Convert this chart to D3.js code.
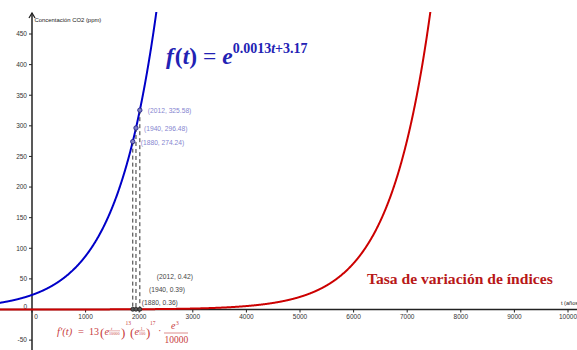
<!DOCTYPE html>
<html>
<head>
<meta charset="utf-8">
<script src="https://cdn.jsdelivr.net/npm/d3@7"></script>
<style>
  html, body { margin: 0; padding: 0; background: #fff; }
  svg { display: block; }
</style>
</head>
<body>
<script>
// ---- Data ----
const fCoefA = 0.0013;          // f(t) = e^(a t + b)
const fCoefB = 3.17;
const years = [1880, 1940, 2012];
const fValues = [274.24, 296.48, 325.58];
const dValues = [0.36, 0.39, 0.42];
const xTicks = [0, 1000, 2000, 3000, 4000, 5000, 6000, 7000, 8000, 9000, 10000];
const yTicks = [-50, 0, 50, 100, 150, 200, 250, 300, 350, 400, 450];
const xLabel = "t (años)";
const yLabel = "Concentación CO2 (ppm)";
const derivTitle = "Tasa de variación de índices";

const W = 577, H = 350;
const x = d3.scaleLinear().domain([0, 10000]).range([32, 568]);
const y = d3.scaleLinear().domain([0, 450]).range([309.5, 34]);

const svg = d3.select("body").append("svg").attr("width", W).attr("height", H);

svg.append("defs").append("clipPath").attr("id", "plotclip")
  .append("rect").attr("x", 0).attr("y", 12).attr("width", W).attr("height", H - 12);

const sans = "'Liberation Sans', Arial, sans-serif";
const serif = "'Liberation Serif', 'Times New Roman', serif";

// ---- Axes ----
const axG = svg.append("g");
axG.append("line").attr("x1", 0).attr("x2", W).attr("y1", y(0)).attr("y2", y(0))
  .attr("stroke", "#222").attr("stroke-width", 1.5);
axG.append("line").attr("x1", x(0)).attr("x2", x(0)).attr("y1", 13).attr("y2", H)
  .attr("stroke", "#222").attr("stroke-width", 1.5);
axG.append("path").attr("d", `M${x(0)-3},18 L${x(0)},13 L${x(0)+3},18`)
  .attr("fill", "none").attr("stroke", "#222").attr("stroke-width", 1.3);

// x ticks
const xt = axG.selectAll(".xt").data(xTicks).enter().append("g");
xt.append("line").attr("x1", d => x(d)).attr("x2", d => x(d))
  .attr("y1", y(0)).attr("y2", y(0) + 3).attr("stroke", "#222");
xt.append("text").attr("x", d => d === 0 ? x(d) + 4 : x(d)).attr("y", y(0) + 9)
  .attr("text-anchor", "middle").attr("font-family", sans).attr("font-size", 6.5)
  .attr("fill", "#333").text(d => d);

// y ticks
const yt = axG.selectAll(".yt").data(yTicks).enter().append("g");
yt.append("line").attr("x1", x(0) - 3).attr("x2", x(0))
  .attr("y1", d => y(d)).attr("y2", d => y(d)).attr("stroke", "#222")
  .attr("display", d => d === 0 ? "none" : null);
yt.append("text").attr("x", x(0) - 5).attr("y", d => d === 0 ? y(d) - 1 : y(d) + 2.3)
  .attr("text-anchor", "end").attr("font-family", sans).attr("font-size", 6.5)
  .attr("fill", "#333").text(d => d);

axG.append("text").attr("x", x(0) + 2.5).attr("y", 22).attr("font-family", sans)
  .attr("font-size", 5.9).attr("fill", "#222").text(yLabel);
axG.append("text").attr("x", 561).attr("y", 305).attr("font-family", sans)
  .attr("font-size", 5.6).attr("fill", "#222").text(xLabel);

// ---- Curves ----
const f = t => Math.exp(fCoefA * t + fCoefB);
const df = t => fCoefA * f(t);
const ts = d3.range(-700, 10300, 5);
const line = g => d3.line().x(t => x(t)).y(t => y(g(t)))
  .defined(t => g(t) < 2000);
const curves = svg.append("g").attr("clip-path", "url(#plotclip)");
curves.append("path").attr("d", line(df)(ts)).attr("fill", "none")
  .attr("stroke", "#cc0000").attr("stroke-width", 2);
curves.append("path").attr("d", line(f)(ts)).attr("fill", "none")
  .attr("stroke", "#0000c8").attr("stroke-width", 2);

// dashed projections
years.forEach((yr, i) => {
  svg.append("line").attr("x1", x(yr)).attr("x2", x(yr))
    .attr("y1", y(fValues[i])).attr("y2", y(dValues[i]))
    .attr("stroke", "#333").attr("stroke-width", 1).attr("stroke-dasharray", "4,3");
});

// derivative points
years.forEach((yr, i) => {
  svg.append("circle").attr("cx", x(yr)).attr("cy", y(dValues[i])).attr("r", 2)
    .attr("fill", "#555").attr("stroke", "#222").attr("stroke-width", 0.8);
});
// function points
years.forEach((yr, i) => {
  svg.append("circle").attr("cx", x(yr)).attr("cy", y(fValues[i])).attr("r", 2.2)
    .attr("fill", "#8080c8").attr("stroke", "#1a1a80").attr("stroke-width", 0.8);
});

// labels
const fLabOff = [[8, 3], [8, 3], [8, 3]];
years.forEach((yr, i) => {
  svg.append("text").attr("x", x(yr) + fLabOff[i][0]).attr("y", y(fValues[i]) + fLabOff[i][1])
    .attr("font-family", sans).attr("font-size", 6.7).attr("fill", "#8585d0")
    .text(`(${yr}, ${fValues[i].toFixed(2)})`);
});
const dLabOff = [[9, -4], [13, -17], [17, -30]];
years.forEach((yr, i) => {
  svg.append("text").attr("x", x(yr) + dLabOff[i][0]).attr("y", y(dValues[i]) + dLabOff[i][1])
    .attr("font-family", sans).attr("font-size", 6.7).attr("fill", "#444")
    .text(`(${yr}, ${dValues[i].toFixed(2)})`);
});

// ---- Formula f(t) ----
const blue = "#2222b4";
const ft = svg.append("text").attr("x", 166).attr("y", 64).attr("font-family", serif)
  .attr("fill", blue).attr("font-size", 23.5);
ft.append("tspan").attr("font-weight", "bold").attr("font-style", "italic").text("f");
ft.append("tspan").attr("dx", 1).attr("font-weight", "bold").text("(");
ft.append("tspan").attr("font-weight", "bold").attr("font-style", "italic").text("t");
ft.append("tspan").attr("font-weight", "bold").text(")");
ft.append("tspan").attr("dx", 6).text("=");
ft.append("tspan").attr("dx", 6).attr("font-weight", "bold").attr("font-style", "italic").text("e");
ft.append("tspan").attr("dy", -11).attr("font-size", 14).attr("font-weight", "bold").text("0.0013");
ft.append("tspan").attr("font-size", 14).attr("font-weight", "bold").attr("font-style", "italic").text("t");
ft.append("tspan").attr("font-size", 14).attr("font-weight", "bold").text("+3.17");

// ---- Derivative title ----
svg.append("text").attr("x", 367).attr("y", 284).attr("font-family", serif)
  .attr("font-size", 15.6).attr("font-weight", "bold").attr("fill", "#b81818").text(derivTitle);

// ---- Formula f'(t) ----
const red = "#c84040";
const fg = svg.append("g").attr("font-family", serif).attr("fill", red);
const T = (xx, yy, s, sz, it) => fg.append("text").attr("x", xx).attr("y", yy)
  .attr("font-size", sz).attr("font-style", it ? "italic" : null).text(s);
T(57, 335, "f′(t)", 10.5, true);
T(78, 335, "=", 10.5, false);
T(89, 335, "13", 10, false);
T(100, 336.5, "(", 13, false);
T(104.5, 335, "e", 10.5, true);
T(111, 329.5, "t", 4.5, true);
T(109, 334.5, "10000", 4.2, false);
fg.append("line").attr("x1", 109).attr("x2", 120).attr("y1", 330.8).attr("y2", 330.8)
  .attr("stroke", red).attr("stroke-width", 0.4);
T(121, 336.5, ")", 13, false);
T(125.5, 325, "13", 5.5, false);
T(130, 336.5, "(", 13, false);
T(134.5, 335, "e", 10.5, true);
T(140.5, 329.5, "1", 4.5, false);
T(139, 334.5, "100", 4.2, false);
fg.append("line").attr("x1", 139).attr("x2", 145).attr("y1", 330.8).attr("y2", 330.8)
  .attr("stroke", red).attr("stroke-width", 0.4);
T(146, 336.5, ")", 13, false);
T(150, 325, "17", 5.5, false);
T(158, 334, "·", 10.5, false);
T(171, 329, "e", 10, true);
T(176, 325, "3", 5.5, false);
fg.append("line").attr("x1", 164).attr("x2", 188).attr("y1", 333).attr("y2", 333)
  .attr("stroke", red).attr("stroke-width", 0.6);
T(164.5, 343, "10000", 9.5, false);
</script>
</body>
</html>
